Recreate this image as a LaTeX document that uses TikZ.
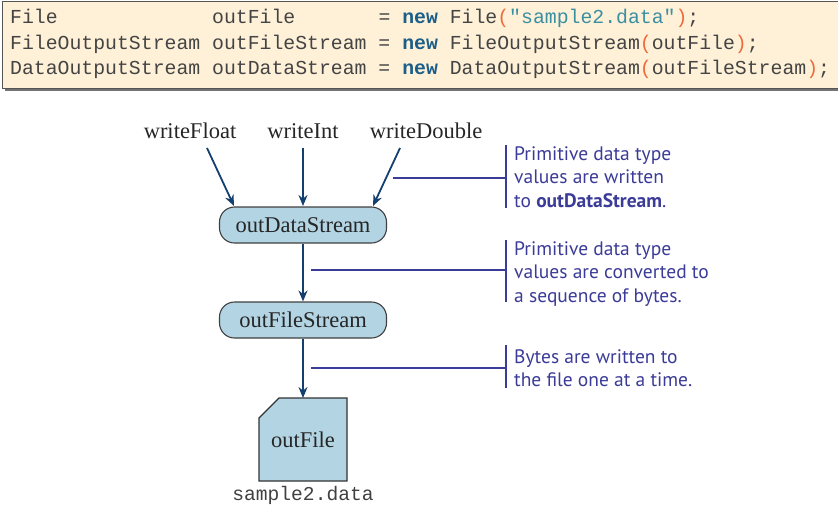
\documentclass[tikz,border=0pt]{standalone}
\usepackage{fontspec}
\setmainfont{Liberation Serif}
\newfontfamily\codefont{Liberation Mono}
\newfontfamily\callfont{PT Sans}
\usetikzlibrary{arrows.meta}
\definecolor{boxfill}{HTML}{FEF1D8}
\definecolor{boxline}{HTML}{555555}
\definecolor{kwcol}{HTML}{1B5E8A}
\definecolor{strcol}{HTML}{3A8FA3}
\definecolor{parcol}{HTML}{EE6A3C}
\definecolor{codetxt}{HTML}{444444}
\definecolor{arrowcol}{HTML}{143F6E}
\definecolor{nodefill}{HTML}{B3D4E3}
\definecolor{callcol}{HTML}{3B3B98}
\newcommand{\kw}[1]{\textcolor{kwcol}{\bfseries #1}}
\newcommand{\pa}[1]{\textcolor{parcol}{#1}}
\newcommand{\st}[1]{\textcolor{strcol}{#1}}
\tikzset{
  codeline/.style={anchor=base west, inner sep=0pt, font=\codefont\fontsize{19.8}{22}\selectfont, text=codetxt},
  label/.style={inner sep=0pt, font=\fontsize{22.5}{26}\selectfont, text=black!85},
  streambox/.style={draw=black!75, line width=1.1pt, fill=nodefill, rounded corners=15pt, minimum width=167pt, minimum height=36pt, inner sep=0pt, font=\fontsize{22.5}{26}\selectfont, text=black!85},
  flow/.style={draw=arrowcol, line width=1.8pt, -{Stealth[length=11pt,width=9pt]}},
  callline/.style={draw=callcol, line width=2pt},
  calltext/.style={anchor=north west, inner sep=0pt, align=left, font=\callfont\fontsize{19.5}{23.5}\selectfont, text=callcol},
}
\begin{document}
\begin{tikzpicture}[x=1pt,y=-1pt]
\useasboundingbox (0,0) rectangle (838,507);
% code box
\fill[black!55] (5,4) rectangle (850,91);
\draw[boxline, line width=1pt, fill=boxfill] (2,1) rectangle (845,88);
\node[codeline] (c1) at (10,23) {File\ \ \ \ \ \ \ \ \ \ \ \ \ outFile\ \ \ \ \ \ \ = \kw{new} File\pa{(}\st{"sample2.data"}\pa{)};};
\node[codeline] (c2) at (10,49) {FileOutputStream outFileStream = \kw{new} FileOutputStream\pa{(}outFile\pa{)};};
\node[codeline] (c3) at (10,74) {DataOutputStream outDataStream = \kw{new} DataOutputStream\pa{(}outFileStream\pa{)};};
% labels
\node[label] (wf) at (190,131) {writeFloat};
\node[label] (wi) at (303,131) {writeInt};
\node[label] (wd) at (426,131) {writeDouble};
% nodes
\node[streambox] (ods) at (303,225) {outDataStream};
\node[streambox] (ofs) at (303,320) {outFileStream};
\draw[black!80, line width=1.1pt, fill=nodefill] (259,418) -- (279,398) -- (347,398) -- (347,481) -- (259,481) -- cycle;
\node[label] (of) at (303,440) {outFile};
\coordinate (ofTop) at (303,398);
\node[anchor=base, inner sep=0pt, font=\codefont\fontsize{19.6}{22}\selectfont, text=black!75] (fname) at (303,500) {sample2.data};
% arrows
\coordinate (wfs) at (207,148); \coordinate (wfe) at (234,206);
\coordinate (wis) at (303,148); \coordinate (wie) at (303,206);
\coordinate (wds) at (400,148); \coordinate (wde) at (373,206);
\draw[flow] (wfs) -- (wfe);
\draw[flow] (wis) -- (wie);
\draw[flow] (wds) -- (wde);
\draw[flow] (ods.south) -- (ofs.north);
\draw[flow] (ofs.south) -- (ofTop);
% callouts
\coordinate (a1) at (393,178); \coordinate (b1) at (506,178);
\coordinate (t1) at (506,145); \coordinate (u1) at (506,208);
\draw[callline] (a1) -- (b1); \draw[callline] (t1) -- (u1);
\node[calltext] (n1) at (514,146) {Primitive data type\\values are written\\to \textbf{outDataStream}.};
\coordinate (a2) at (311,270); \coordinate (b2) at (506,270);
\coordinate (t2) at (506,240); \coordinate (u2) at (506,302);
\draw[callline] (a2) -- (b2); \draw[callline] (t2) -- (u2);
\node[calltext] (n2) at (514,241) {Primitive data type\\values are converted to\\a sequence of bytes.};
\coordinate (a3) at (311,368); \coordinate (b3) at (506,368);
\coordinate (t3) at (506,345); \coordinate (u3) at (506,388);
\draw[callline] (a3) -- (b3); \draw[callline] (t3) -- (u3);
\node[calltext] (n3) at (514,349) {Bytes are written to\\the file one at a time.};
\end{tikzpicture}
\end{document}
